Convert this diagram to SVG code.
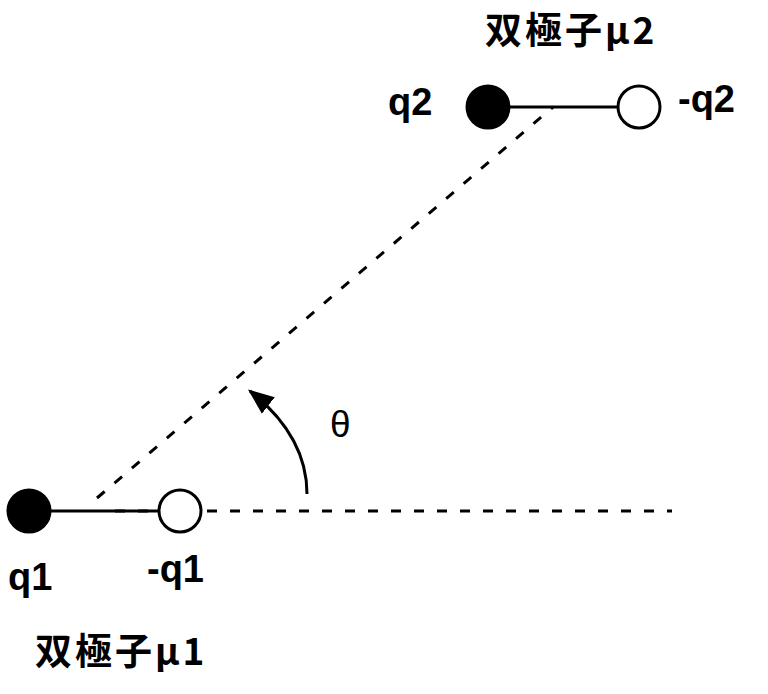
<svg xmlns="http://www.w3.org/2000/svg" width="768" height="694" viewBox="0 0 768 694">
<defs>
<style>
.lbl{font-family:"Liberation Sans","Noto Sans CJK JP",sans-serif;font-size:38px;font-weight:bold;fill:#000}
.ttl{font-family:"Noto Sans CJK JP","Liberation Sans",sans-serif;font-size:37px;font-weight:bold;letter-spacing:3px;fill:#000}
.dash{stroke:#000;stroke-width:3;stroke-dasharray:10 13;fill:none}
.bond{stroke:#000;stroke-width:3;fill:none}
.pos{fill:#000;stroke:#000;stroke-width:3}
.neg{fill:#fff;stroke:#000;stroke-width:3}
</style>
<marker id="arr" viewBox="0 0 20 20" refX="18" refY="10" markerWidth="26" markerHeight="26" orient="auto" markerUnits="userSpaceOnUse">
<path d="M0,2 L20,10 L0,18 Z" fill="#000"/>
</marker>
</defs>
<g id="connectors">
<line class="dash" x1="115" y1="511" x2="672" y2="511"/>
<line class="dash" x1="97" y1="498" x2="553" y2="107"/>
<line class="bond" x1="29" y1="511" x2="180" y2="511"/>
<line class="bond" x1="488" y1="107" x2="639" y2="107"/>
<path class="bond" d="M307,494 Q307,436 250,391" marker-end="url(#arr)"/>
</g>
<g id="q1"><circle class="pos" cx="29" cy="511" r="21"/><text class="lbl" x="8" y="590">q1</text></g>
<g id="mq1"><circle class="neg" cx="180" cy="511" r="21"/><text class="lbl" x="147" y="582">-q1</text></g>
<g id="q2"><circle class="pos" cx="488" cy="107" r="21"/><text class="lbl" x="388" y="115">q2</text></g>
<g id="mq2"><circle class="neg" cx="639" cy="107" r="21"/><text class="lbl" x="678" y="112">-q2</text></g>
<g id="dipole1"><text class="ttl" x="35" y="665">双極子μ1</text></g>
<g id="dipole2"><text class="ttl" x="485" y="44">双極子μ2</text></g>
<g id="theta"><text class="lbl" x="330" y="437" style="font-size:37px;font-weight:normal">θ</text></g>
</svg>
